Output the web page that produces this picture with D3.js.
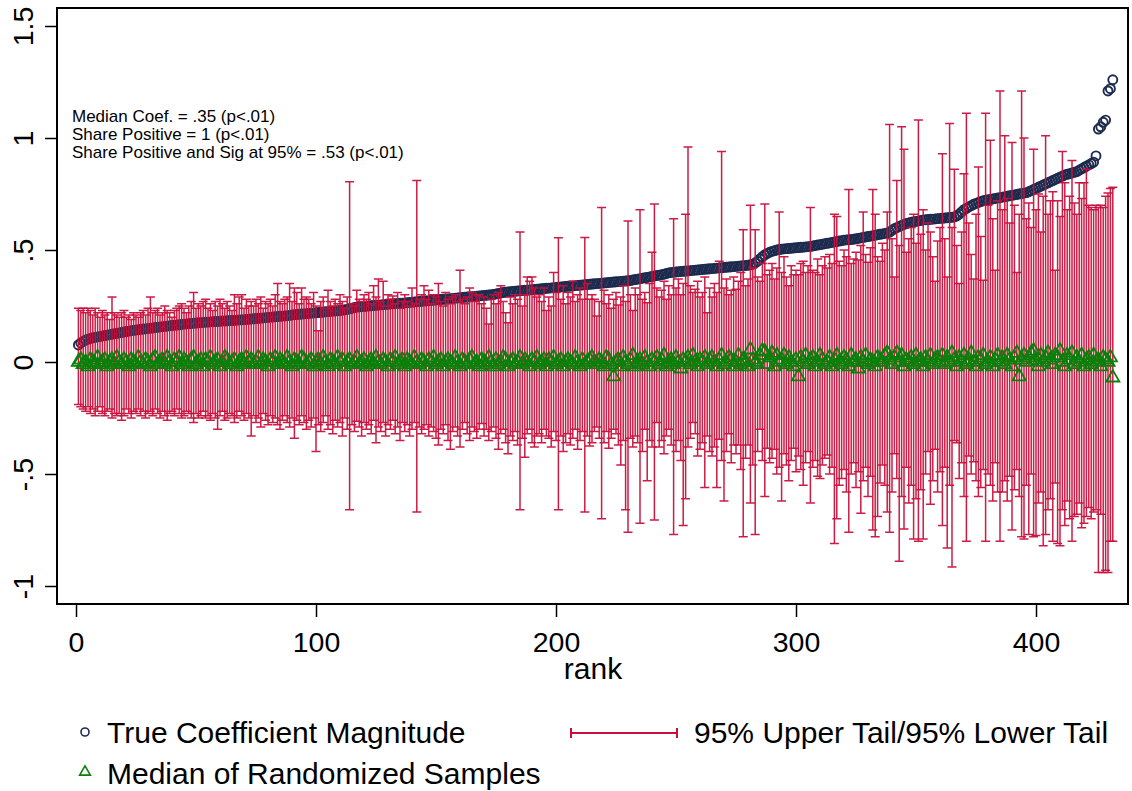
<!DOCTYPE html>
<html>
<head>
<meta charset="utf-8">
<script src="https://cdn.jsdelivr.net/npm/d3@7/dist/d3.min.js"></script>
<style>
body { margin: 0; background: #fff; }
text { font-family: Arial, "Liberation Sans", sans-serif; fill: #000; }
</style>
</head>
<body>
<svg id="chart" width="1132" height="791"></svg>
<script>

// true coefficient, sorted by rank (1..432)
var coef = [
	.076,.085,.092,.098,.102,.105,.108,.110,.112,.114,.116,.118,.120,.122,.124,.126,.128,.130,.132,.134,.136,.138,.140,.141,
	.143,.144,.146,.147,.148,.150,.151,.152,.154,.155,.157,.158,.159,.160,.162,.163,.164,.165,.166,.168,.169,.170,.171,.172,
	.173,.174,.175,.176,.177,.178,.178,.179,.180,.181,.181,.182,.183,.183,.184,.185,.186,.186,.187,.188,.188,.189,.190,.191,
	.192,.193,.194,.195,.196,.197,.198,.199,.200,.201,.202,.203,.204,.205,.206,.207,.208,.210,.211,.212,.213,.214,.215,.216,
	.217,.218,.219,.220,.221,.222,.223,.224,.225,.226,.227,.228,.229,.230,.231,.233,.235,.237,.240,.243,.245,.246,.247,.248,
	.249,.250,.251,.252,.253,.254,.255,.256,.257,.258,.259,.260,.260,.261,.262,.263,.264,.265,.266,.267,.268,.269,.270,.271,
	.272,.273,.274,.275,.276,.277,.278,.279,.280,.281,.282,.283,.284,.285,.286,.287,.288,.289,.290,.291,.292,.293,.294,.295,
	.296,.297,.298,.299,.300,.302,.304,.306,.308,.310,.312,.313,.314,.315,.316,.317,.318,.319,.320,.321,.322,.323,.324,.325,
	.326,.327,.328,.329,.330,.331,.332,.333,.334,.335,.336,.337,.338,.339,.340,.341,.342,.343,.344,.345,.346,.347,.348,.349,
	.350,.351,.352,.353,.354,.355,.356,.357,.358,.359,.360,.361,.362,.363,.364,.366,.368,.370,.372,.374,.376,.378,.380,.382,
	.384,.386,.388,.390,.392,.395,.398,.400,.401,.402,.403,.404,.405,.406,.407,.408,.409,.410,.411,.412,.413,.414,.415,.416,
	.417,.418,.419,.420,.421,.422,.423,.424,.425,.426,.427,.428,.429,.430,.431,.432,.434,.437,.442,.450,.460,.470,.478,.485,
	.490,.494,.497,.500,.502,.504,.505,.506,.507,.508,.509,.510,.511,.512,.513,.514,.515,.516,.518,.520,.522,.524,.526,.528,
	.530,.532,.534,.536,.538,.540,.542,.544,.545,.546,.547,.548,.550,.552,.554,.556,.558,.560,.562,.564,.566,.568,.570,.572,
	.574,.576,.580,.588,.595,.600,.605,.610,.614,.618,.621,.624,.626,.628,.630,.632,.634,.635,.636,.637,.638,.639,.640,.641,
	.642,.643,.644,.645,.646,.648,.652,.660,.670,.680,.686,.692,.698,.704,.708,.712,.716,.720,.722,.724,.726,.728,.730,.732,
	.734,.736,.738,.740,.742,.744,.746,.748,.750,.752,.754,.756,.760,.765,.770,.775,.780,.785,.790,.795,.800,.805,.810,.815,
	.820,.825,.830,.835,.838,.841,.844,.847,.850,.856,.862,.868,.874,.880,.886,.892,.920,1.04,1.05,1.07,1.08,1.21,1.22,1.26
]

// 95% upper tail of the randomized samples
var upper = [
	.24,.23,.24,.22,.24,.23,.21,.24,.22,.20,.23,.21,.22,.19,.29,.22,.21,.20,.22,.23,.20,.21,.19,.22,
	.21,.20,.22,.23,.21,.24,.29,.22,.23,.24,.21,.22,.25,.23,.22,.20,.23,.24,.25,.26,.24,.22,.25,.27,
	.31,.24,.26,.25,.27,.28,.24,.26,.23,.27,.25,.28,.26,.24,.27,.25,.23,.30,.26,.29,.30,.24,.28,.25,
	.27,.25,.28,.26,.29,.24,.27,.26,.28,.25,.30,.35,.27,.26,.28,.29,.35,.27,.33,.31,.26,.33,.28,.29,
	.28,.26,.31,.25,.14,.27,.29,.24,.32,.27,.25,.28,.26,.30,.27,.24,.29,.805,.26,.25,.32,.28,.27,.30,
	.28,.31,.26,.34,.29,.37,.27,.36,.25,.30,.28,.295,.26,.31,.24,.27,.30,.27,.25,.33,.26,.81,.28,.30,
	.34,.28,.32,.26,.30,.29,.35,.27,.25,.31,.28,.26,.29,.30,.27,.41,.28,.26,.29,.33,.31,.27,.30,.30,
	.26,.29,.24,.17,.28,.30,.26,.31,.34,.27,.22,.175,.29,.26,.30,.28,.58,.25,.30,.38,.36,.38,.33,.29,
	.30,.27,.33,.23,.29,.25,.40,.31,.555,.28,.34,.26,.31,.29,.36,.27,.30,.33,.28,.556,.35,.28,.30,.28,
	.205,.27,.69,.32,.26,.30,.24,.28,.31,.255,.29,.34,.27,.63,.30,.23,.33,.30,.68,.28,.31,.265,.35,.49,
	.705,.33,.29,.32,.36,.28,.34,.30,.64,.33,.37,.30,.35,.66,.96,.34,.31,.325,.36,.29,.31,.38,.22,.33,
	.29,.35,.31,.45,.94,.33,.37,.30,.32,.38,.325,.36,.40,.59,.34,.37,.70,.42,.59,.38,.36,.44,.705,.39,
	.41,.44,.37,.42,.67,.40,.47,.38,.34,.43,.39,.41,.39,.44,.45,.40,.43,.69,.41,.40,.46,.39,.43,.47,
	.42,.48,.44,.66,.65,.45,.43,.50,.47,.77,.44,.46,.49,.455,.52,.67,.48,.445,.51,.77,.66,.47,.45,.53,
	.50,.67,1.06,.55,.38,.81,.52,1.05,.95,.49,.55,.60,.66,.53,1.08,.57,.68,.50,.62,.58,.47,.36,.54,.60,
	.93,.55,.38,1.065,.60,.86,.52,.35,.58,.84,1.11,.62,.48,.37,.66,.87,.56,.365,1.11,.70,.99,.64,.41,.72,
	1.21,.68,1.01,.73,.62,.98,.70,.40,.66,1.21,1.00,.64,.71,.60,.95,.68,.75,.58,.74,1.01,.66,.72,.76,.41,
	.72,.65,.94,.80,.68,.74,.90,.71,.66,.80,.73,.80,.86,.70,.69,.68,.70,.69,.70,.69,.74,.755,.775,.78
]

// 95% lower tail of the randomized samples
var lower = [
	-.19,-.20,-.21,-.22,-.20,-.23,-.21,-.24,-.22,-.20,-.23,-.24,-.22,-.21,-.25,-.23,-.24,-.23,-.26,-.24,-.21,-.23,-.25,-.22,
	-.23,-.21,-.24,-.22,-.25,-.23,-.22,-.24,-.21,-.23,-.25,-.22,-.24,-.26,-.23,-.22,-.24,-.21,-.23,-.25,-.24,-.22,-.23,-.25,
	-.27,-.23,-.25,-.24,-.22,-.25,-.24,-.26,-.23,-.25,-.30,-.24,-.22,-.26,-.25,-.23,-.24,-.27,-.25,-.22,-.24,-.26,-.23,-.25,
	-.33,-.24,-.27,-.25,-.29,-.23,-.26,-.28,-.24,-.27,-.25,-.28,-.30,-.26,-.24,-.27,-.29,-.25,-.34,-.26,-.28,-.24,-.27,-.30,
	-.26,-.29,-.25,-.40,-.28,-.31,-.27,-.24,-.30,-.28,-.32,-.26,-.29,-.27,-.33,-.25,-.30,-.66,-.28,-.31,-.265,-.29,-.33,-.27,
	-.30,-.28,-.32,-.26,-.36,-.29,-.31,-.27,-.33,-.28,-.30,-.26,-.32,-.29,-.35,-.27,-.31,-.28,-.33,-.30,-.27,-.67,-.29,-.32,
	-.30,-.28,-.33,-.29,-.31,-.34,-.37,-.30,-.32,-.28,-.35,-.39,-.31,-.29,-.33,-.38,-.30,-.27,-.32,-.35,-.29,-.31,-.34,-.30,
	-.275,-.33,-.30,-.35,-.31,-.29,-.34,-.39,-.32,-.30,-.36,-.41,-.33,-.35,-.31,-.37,-.66,-.34,-.425,-.32,-.30,-.36,-.38,-.33,
	-.32,-.36,-.30,-.33,-.34,-.38,-.31,-.35,-.66,-.33,-.40,-.36,-.32,-.37,-.34,-.30,-.39,-.35,-.31,-.67,-.33,-.375,-.36,-.31,
	-.29,-.34,-.70,-.36,-.31,-.385,-.34,-.30,-.32,-.37,-.46,-.35,-.66,-.76,-.34,-.38,-.33,-.36,-.72,-.40,-.30,-.53,-.35,-.38,
	-.705,-.27,-.38,-.35,-.41,-.33,-.30,-.37,-.77,-.40,-.35,-.44,-.73,-.61,-.38,-.34,-.27,-.32,-.42,-.39,-.36,-.56,-.33,-.40,
	-.42,-.38,-.56,-.345,-.44,-.62,-.40,-.32,-.45,-.37,-.41,-.37,-.48,-.78,-.43,-.37,-.63,-.46,-.77,-.40,-.30,-.44,-.60,-.385,
	-.45,-.43,-.39,-.50,-.47,-.62,-.41,-.46,-.53,-.44,-.385,-.49,-.42,-.48,-.55,-.45,-.40,-.63,-.47,-.44,-.51,-.52,-.46,-.43,
	-.415,-.50,-.47,-.81,-.70,-.55,-.52,-.48,-.58,-.76,-.50,-.45,-.56,-.49,-.675,-.53,-.47,-.60,-.51,-.75,-.78,-.69,-.54,-.46,
	-.55,-.67,-.76,-.58,-.41,-.52,-.89,-.60,-.745,-.47,-.63,-.55,-.79,-.61,-.80,-.57,-.79,-.50,-.40,-.635,-.53,-.39,-.58,-.49,
	-.73,-.47,-.83,-.55,-.915,-.35,-.36,-.52,-.45,-.60,-.80,-.42,-.50,-.445,-.53,-.60,-.56,-.48,-.80,-.50,-.55,-.62,-.45,-.58,
	-.80,-.58,-.53,-.62,-.51,-.75,-.57,-.48,-.60,-.78,-.79,-.55,-.77,-.50,-.78,-.775,-.63,-.58,-.82,-.77,-.66,-.61,-.80,-.54,
	-.81,-.82,-.66,-.73,-.62,-.70,-.80,-.69,-.68,-.63,-.74,-.72,-.69,-.65,-.70,-.67,-.66,-.94,-.68,-.94,-.93,-.94,-.80,-.80
]

// median of the randomized samples
var median = [
	.00,.01,-.01,.00,-.02,.01,.00,-.01,.02,-.01,.00,.01,-.02,.00,.01,-.01,.02,.00,-.01,.01,.00,-.02,.01,.00,
	-.01,.02,.00,-.01,.01,.00,-.02,.01,.02,-.01,.00,.01,-.01,.02,.00,-.02,.01,.00,.02,-.01,.01,.00,-.02,.01,
	.02,-.01,.00,.01,-.02,.01,.00,.02,-.01,.00,.01,-.02,.00,.02,.01,-.01,.00,.01,-.02,.00,.01,-.01,.02,.00,
	.01,-.01,.00,.02,-.01,.01,.00,-.02,.01,.00,.02,-.01,.01,.00,-.01,.02,.00,-.02,.01,.00,-.01,.02,.01,-.01,
	.00,.01,-.02,.00,.01,-.01,.02,.00,-.02,.01,.00,-.01,.02,.00,.01,-.02,.00,.01,-.01,.00,.02,-.01,.00,.01,
	-.02,.00,.01,-.01,.02,.00,-.01,.01,.00,-.02,.01,.00,.02,-.01,.00,.01,-.02,.01,.00,-.01,.02,.00,-.01,.01,
	.00,-.02,.01,.00,.02,-.01,.00,.01,-.02,.00,.01,.00,-.01,.02,.00,-.02,.01,.00,-.01,.01,.02,-.01,.00,-.02,
	.01,.00,-.01,.02,.00,-.02,.01,-.01,.00,.02,.01,-.02,.00,.01,-.01,.00,.02,-.01,.01,.00,-.02,.01,.00,.02,
	-.01,.00,.01,-.02,.01,.00,.02,-.01,.00,.01,-.02,.00,.01,.00,-.01,.02,.00,-.02,.01,-.01,.00,.01,.02,.00,
	-.01,.01,.00,-.02,.02,.01,-.01,-.065,.00,.01,-.02,.02,.00,-.01,.01,.03,-.02,.00,.01,-.01,.02,.00,-.02,.01,
	.00,.02,-.01,.01,.03,-.02,.00,.01,-.01,.02,.00,-.03,.01,.00,.02,-.01,.03,.00,-.02,.01,.00,.02,-.01,.01,
	.02,.00,-.02,.01,.03,-.01,.00,.02,.01,-.02,.00,.03,-.01,.01,.00,-.02,.055,.01,.00,-.01,.03,.05,.045,-.01,
	.02,.04,-.02,.03,.00,.01,.03,-.01,.02,.00,-.02,.01,-.065,.02,.00,.03,-.01,.01,.02,-.02,.00,.03,.01,-.01,
	.00,.02,-.02,.01,.03,.00,-.01,.02,.01,-.02,.03,.00,.01,-.03,.02,.00,.03,-.01,.01,.00,-.02,.02,.01,.00,
	.03,.04,.01,-.01,.02,.04,.00,.03,-.02,.01,.00,.02,-.01,.03,.00,.01,-.02,.02,.00,.03,-.01,.01,.02,.00,
	.03,-.01,.02,.00,.04,.01,-.02,.02,.00,.03,-.01,.01,.04,.00,-.02,.02,.01,.03,-.01,.00,.02,-.02,.01,.03,
	.00,.02,-.01,.03,.01,-.02,.02,.04,-.065,.01,.03,.00,.02,.04,.05,.01,-.02,.03,.00,.02,.04,.01,-.01,.03,
	.02,.05,.00,-.02,.03,.01,.04,-.01,.02,.00,.03,-.02,.01,.02,-.01,.03,.00,.01,-.02,.02,.01,.00,.02,-.07
]

var yticks = [-1, -0.5, 0, 0.5, 1, 1.5]
var ytick_labels = ['-1', '-.5', '0', '.5', '1', '1.5']
var xticks = [0, 100, 200, 300, 400]
var notes = [
	'Median Coef. = .35 (p<.01)',
	'Share Positive = 1 (p<.01)',
	'Share Positive and Sig at 95% = .53 (p<.01)'
]
var legend_labels = ['True Coefficient Magnitude', '95% Upper Tail/95% Lower Tail', 'Median of Randomized Samples']

var navy = '#1c2b4e'
var bar_color = '#c8103c'
var green = '#0a800a'


function draw_rank_chart(svg_ele) {

	var svg = d3.select(svg_ele)

	// plot region box
	var box = {'left': 57, 'right': 1128, 'top': 8, 'bottom': 604}

	var xscale = d3.scaleLinear().domain([0, 400]).range([76, 1036])
	var yscale = d3.scaleLinear().domain([-1, 1.5]).range([586, 26])

	var rows = coef.map(function(c, i) {
		return {'rank': i + 1, 'coef': c, 'hi': upper[i], 'lo': lower[i], 'med': median[i]}
	})

	// y axis
	var yaxis = svg.append('g')
		.attr('transform', 'translate(' + box.left + ',0)')
		.call(d3.axisLeft(yscale).tickValues(yticks).tickSize(12).tickFormat(function(d, i) { return ytick_labels[i] }))
	yaxis.select('.domain').remove()
	yaxis.selectAll('line').attr('stroke', '#000').attr('stroke-width', 1.5)
	yaxis.selectAll('text')
		.attr('x', null).attr('dy', null)
		.attr('transform', 'translate(-24,0) rotate(-90)')
		.attr('text-anchor', 'middle')
		.style('font-size', '28.5px')

	// x axis
	var xaxis = svg.append('g')
		.attr('transform', 'translate(0,' + box.bottom + ')')
		.call(d3.axisBottom(xscale).tickValues(xticks).tickSize(13).tickFormat(d3.format('d')))
	xaxis.select('.domain').remove()
	xaxis.selectAll('line').attr('stroke', '#000').attr('stroke-width', 1.5)
	xaxis.selectAll('text')
		.attr('y', 48).attr('dy', null)
		.style('font-size', '28.5px')

	svg.append('text')
		.attr('x', 593).attr('y', 679)
		.attr('text-anchor', 'middle')
		.style('font-size', '30px')
		.text('rank')

	var plot = svg.append('g')

	// circles first, then the tails, then the medians (stata draw order)
	plot.append('g')
		.selectAll('circle')
		.data(rows)
		.enter()
		.append('circle')
		.attr('cx', function(d) { return xscale(d.rank) })
		.attr('cy', function(d) { return yscale(d.coef) })
		.attr('r', 4.5)
		.attr('fill', 'none')
		.attr('stroke', navy)
		.attr('stroke-width', 1.9)

	plot.append('g')
		.selectAll('path')
		.data(rows)
		.enter()
		.append('path')
		.attr('d', function(d) {
			var x = xscale(d.rank), y1 = yscale(d.hi), y0 = yscale(d.lo)
			return 'M' + x + ',' + y1 + 'V' + y0 +
				'M' + (x - 4.5) + ',' + y1 + 'H' + (x + 4.5) +
				'M' + (x - 4.5) + ',' + y0 + 'H' + (x + 4.5)
		})
		.attr('fill', 'none')
		.attr('stroke', bar_color)
		.attr('stroke-width', 1.5)
		.attr('stroke-opacity', 0.95)

	var tri = d3.symbol().type(d3.symbolTriangle).size(75)
	plot.append('g')
		.selectAll('path')
		.data(rows)
		.enter()
		.append('path')
		.attr('d', tri)
		.attr('transform', function(d) { return 'translate(' + xscale(d.rank) + ',' + yscale(d.med) + ')' })
		.attr('fill', 'none')
		.attr('stroke', green)
		.attr('stroke-width', 1.8)

	// frame on top
	svg.append('rect')
		.attr('x', box.left).attr('y', box.top)
		.attr('width', box.right - box.left).attr('height', box.bottom - box.top)
		.attr('fill', 'none')
		.attr('stroke', '#000')
		.attr('stroke-width', 2)

	// text block
	svg.append('g')
		.selectAll('text')
		.data(notes)
		.enter()
		.append('text')
		.attr('x', 72)
		.attr('y', function(d, i) { return 121.5 + i * 18.3 })
		.style('font-size', '17px')
		.text(function(d) { return d })

	// legend
	var lg = svg.append('g')
	lg.append('circle')
		.attr('cx', 85).attr('cy', 732).attr('r', 4)
		.attr('fill', 'none').attr('stroke', navy).attr('stroke-width', 1.6)
	lg.append('text').attr('x', 107).attr('y', 743).style('font-size', '30px').text(legend_labels[0])

	lg.append('path')
		.attr('d', 'M571,733H677M571,728V738M677,728V738')
		.attr('fill', 'none').attr('stroke', bar_color).attr('stroke-width', 2)
	lg.append('text').attr('x', 694).attr('y', 743).style('font-size', '30px').text(legend_labels[1])

	lg.append('path')
		.attr('d', d3.symbol().type(d3.symbolTriangle).size(50))
		.attr('transform', 'translate(85,772)')
		.attr('fill', 'none').attr('stroke', green).attr('stroke-width', 1.6)
	lg.append('text').attr('x', 107).attr('y', 784).style('font-size', '30px').text(legend_labels[2])
}

draw_rank_chart('#chart')
</script>
</body>
</html>
